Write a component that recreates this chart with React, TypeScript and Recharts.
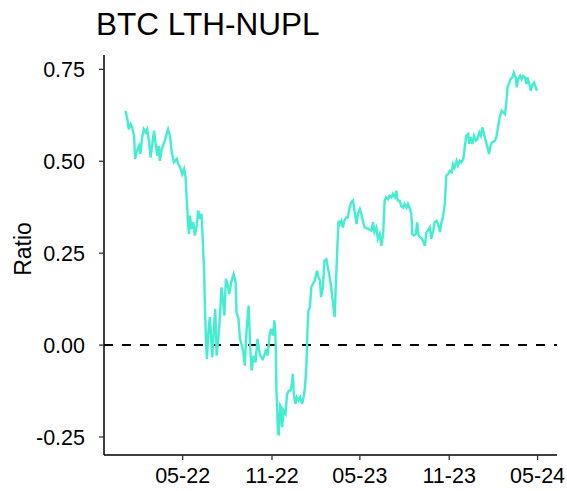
import React from "react";
import { LineChart, Line, XAxis, YAxis, ReferenceLine } from "recharts";

// Days since 2022-01-01
const dayIndex: number[] = [
  2, 6, 9, 13, 16, 20, 22, 25, 30, 33,
  37, 40, 44, 47, 51, 54, 57, 61, 64, 68,
  71, 73, 77, 82, 87, 90, 94, 97, 102, 108,
  111, 115, 119, 123, 126, 128, 131, 133, 135, 138,
  142, 145, 149, 152, 156, 159, 161, 164, 166, 168,
  170, 173, 176, 181, 183, 187, 190, 194, 197, 200,
  202, 206, 209, 213, 216, 220, 225, 229, 231, 235,
  238, 242, 245, 248, 251, 254, 256, 259, 262, 266,
  270, 274, 277, 280, 285, 288, 292, 295, 299, 302,
  306, 309, 311, 312, 313, 315, 316, 318, 321, 323,
  325, 328, 332, 335, 339, 342, 345, 347, 349, 352,
  355, 359, 362, 366, 369, 372, 375, 377, 379, 382,
  385, 388, 392, 395, 397, 400, 403, 405, 409, 412,
  416, 419, 423, 426, 429, 433, 435, 438, 441, 444,
  447, 450, 453, 457, 460, 464, 467, 471, 474, 478,
  481, 485, 488, 491, 495, 502, 509, 512, 515, 519,
  522, 526, 529, 533, 536, 539, 543, 546, 550, 553,
  557, 560, 563, 567, 570, 574, 577, 581, 584, 588,
  591, 593, 596, 600, 603, 606, 610, 613, 615, 619,
  622, 625, 629, 632, 636, 639, 643, 646, 650, 653,
  656, 660, 663, 667, 670, 674, 677, 680, 684, 687,
  691, 694, 698, 701, 704, 708, 710, 713, 717, 720,
  724, 727, 731, 734, 737, 740, 744, 747, 751, 754,
  757, 763, 766, 770, 773, 777, 780, 784, 787, 789,
  792, 795, 799, 802, 806, 808, 811, 815, 818, 821,
  825, 828, 830, 834, 837, 841, 844, 847, 850,
];

const lthNupl: number[] = [
  0.637, 0.615, 0.587, 0.601, 0.592, 0.569, 0.506, 0.524, 0.542, 0.52,
  0.569, 0.587, 0.578, 0.587, 0.551, 0.51, 0.542, 0.583, 0.551, 0.515,
  0.542, 0.501, 0.533, 0.551, 0.574, 0.587, 0.569, 0.529, 0.497, 0.506,
  0.492, 0.483, 0.465, 0.479, 0.456, 0.406, 0.334, 0.302, 0.352, 0.316,
  0.334, 0.298, 0.325, 0.366, 0.343, 0.357, 0.298, 0.207, 0.098, 0.012,
  -0.038, 0.035, 0.076, -0.033, 0.017, 0.098, -0.029, 0.026, 0.08, 0.157,
  0.135, 0.08, 0.18, 0.162, 0.139, 0.171, 0.193, 0.171, 0.089, 0.071,
  0.017, -0.001, -0.02, -0.056, 0.026, 0.08, 0.107, -0.001, -0.069, -0.029,
  -0.047, 0.017, -0.01, -0.029, -0.038, -0.029, -0.01, -0.029, 0.026, 0.044,
  0.026, 0.067, 0.026, -0.02, -0.119, -0.183, -0.232, -0.246, -0.164, -0.169,
  -0.223, -0.178, -0.187, -0.133, -0.124, -0.124, -0.105, -0.078, -0.133, -0.16,
  -0.142, -0.151, -0.142, -0.16, -0.142, -0.115, -0.051, 0.039, 0.094, 0.103,
  0.157, 0.166, 0.175, 0.193, 0.202, 0.184, 0.175, 0.13, 0.157, 0.23,
  0.234, 0.211, 0.184, 0.157, 0.121, 0.076, 0.148, 0.248, 0.338, 0.329,
  0.338, 0.32, 0.338, 0.347, 0.347, 0.374, 0.388, 0.393, 0.365, 0.329,
  0.357, 0.37, 0.357, 0.338, 0.32, 0.316, 0.311, 0.334, 0.307, 0.32,
  0.289, 0.302, 0.27, 0.302, 0.393, 0.402, 0.397, 0.406, 0.402, 0.411,
  0.402, 0.42, 0.393, 0.393, 0.379, 0.374, 0.384, 0.374, 0.384, 0.37,
  0.357, 0.302, 0.298, 0.302, 0.334, 0.298, 0.293, 0.289, 0.284, 0.27,
  0.307, 0.311, 0.32, 0.289, 0.311, 0.334, 0.338, 0.329, 0.307, 0.334,
  0.347, 0.384, 0.461, 0.465, 0.474, 0.47, 0.492, 0.483, 0.501, 0.488,
  0.501, 0.497, 0.506, 0.538, 0.569, 0.574, 0.547, 0.565, 0.547, 0.569,
  0.556, 0.56, 0.578, 0.569, 0.592, 0.578, 0.556, 0.542, 0.52, 0.542,
  0.551, 0.556, 0.565, 0.596, 0.619, 0.637, 0.633, 0.628, 0.664, 0.701,
  0.71, 0.723, 0.728, 0.741, 0.728, 0.701, 0.723, 0.732, 0.723, 0.732,
  0.728, 0.71, 0.728, 0.71, 0.692, 0.71, 0.714, 0.701, 0.692,
];

const xTickDays: number[] = [120, 304, 485, 669, 851];
const xTickLabels: string[] = ["05-22", "11-22", "05-23", "11-23", "05-24"];
const yTicks: number[] = [-0.25, 0, 0.25, 0.5, 0.75];

const FONT = "'Liberation Sans', Arial, Helvetica, sans-serif";

const data = dayIndex.map((d, i) => ({ day: d, v: lthNupl[i] }));

export default function App() {
  return (
    <div style={{ position: "absolute", left: 0, top: 0, width: 567, height: 491, background: "#fff" }}>
      <LineChart
        width={567}
        height={491}
        data={data}
        margin={{ top: 55, right: 10, bottom: 0, left: 0 }}
      >
        <XAxis
          dataKey="day"
          type="number"
          domain={[-42, 891]}
          allowDataOverflow
          ticks={xTickDays}
          tickFormatter={(d: number) => xTickLabels[xTickDays.indexOf(d)] ?? ""}
          height={36}
          axisLine={{ stroke: "#000", strokeWidth: 1.5 }}
          tickLine={{ stroke: "#333", strokeWidth: 1.3 }}
          tickSize={5}
          tickMargin={8}
          tick={{ fill: "#000", fontSize: 21.5, fontFamily: FONT }}
        />
        <YAxis
          type="number"
          domain={[-0.299, 0.789]}
          allowDataOverflow
          ticks={yTicks}
          tickFormatter={(v: number) => v.toFixed(2)}
          width={104}
          axisLine={{ stroke: "#000", strokeWidth: 1.5 }}
          tickLine={{ stroke: "#333", strokeWidth: 1.3 }}
          tickSize={5}
          tickMargin={14}
          tick={{ fill: "#000", fontSize: 21.5, fontFamily: FONT }}
        />
        <ReferenceLine y={0} stroke="#000" strokeWidth={2} strokeDasharray="9 9" />
        <Line
          type="linear"
          dataKey="v"
          stroke="#42EDD0"
          strokeWidth={2.4}
          dot={false}
          isAnimationActive={false}
        />
      </LineChart>
      <svg
        width={567}
        height={491}
        style={{ position: "absolute", left: 0, top: 0, pointerEvents: "none" }}
      >
        <text x={96} y={35} fontSize={31.5} fontFamily={FONT} fill="#000">
          BTC LTH-NUPL
        </text>
        <text
          x={31}
          y={249}
          fontSize={23}
          fontFamily={FONT}
          fill="#000"
          textAnchor="middle"
          transform="rotate(-90 31 249)"
        >
          Ratio
        </text>
      </svg>
    </div>
  );
}
